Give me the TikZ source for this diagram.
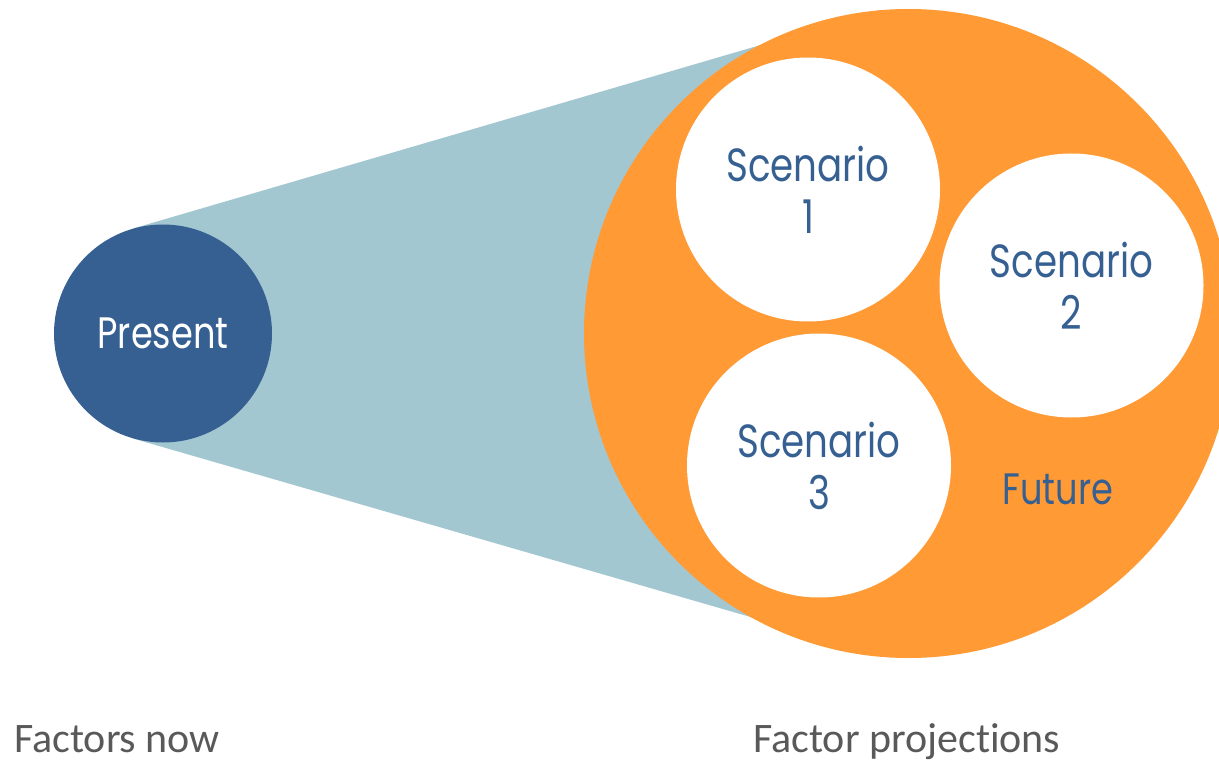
\documentclass[tikz,border=0pt]{standalone}
\usepackage{fontspec}
\setmainfont[Ligatures=NoCommon]{Carlito}
\newfontfamily\geo[FakeStretch=0.8]{Poppins}
\definecolor{pblue}{HTML}{366092}
\definecolor{coneteal}{HTML}{A3C7D0}
\definecolor{orng}{HTML}{FF9A35}
\definecolor{gry}{HTML}{595959}
\begin{document}
\begin{tikzpicture}[x=1pt,y=-1pt,
  blob/.style={circle,inner sep=0pt,draw=none},
  scen/.style={blob,fill=white,minimum size=264pt,text=pblue,align=center,font=\geo\fontsize{46.5}{52}\selectfont},
  captext/.style={text=gry,font=\fontsize{42}{46}\selectfont,inner sep=0pt}]
\useasboundingbox (0,0) rectangle (1219,762);
\clip (0,0) rectangle (1219,762);
\node[blob,minimum size=218pt] (present) at (163,333.5) {};
\node[blob,minimum size=649pt] (future) at (908.5,333.5) {};
\fill[coneteal] (present.106) -- (future.95) -- (future.-93) -- (present.-106) -- cycle;
\node[blob,fill=orng,minimum size=649pt] at (future) {};
\node[blob,fill=pblue,minimum size=218pt,text=white,font=\geo\fontsize{44}{50}\selectfont] at (present) {Present};
\node[scen] (s1) at (808,189.5) {Scenario\\1};
\node[scen] (s2) at (1071.5,285.5) {Scenario\\2};
\node[scen] (s3) at (819,465.5) {Scenario\\3};
\node[text=pblue,font=\geo\fontsize{44}{50}\selectfont] (fut) at (1058,489) {Future};
\node[captext,anchor=base west] (now) at (14,752) {Factors now};
\node[captext,anchor=base west] (proj) at (753,752) {Factor project\kern0pt ions};
\end{tikzpicture}
\end{document}
